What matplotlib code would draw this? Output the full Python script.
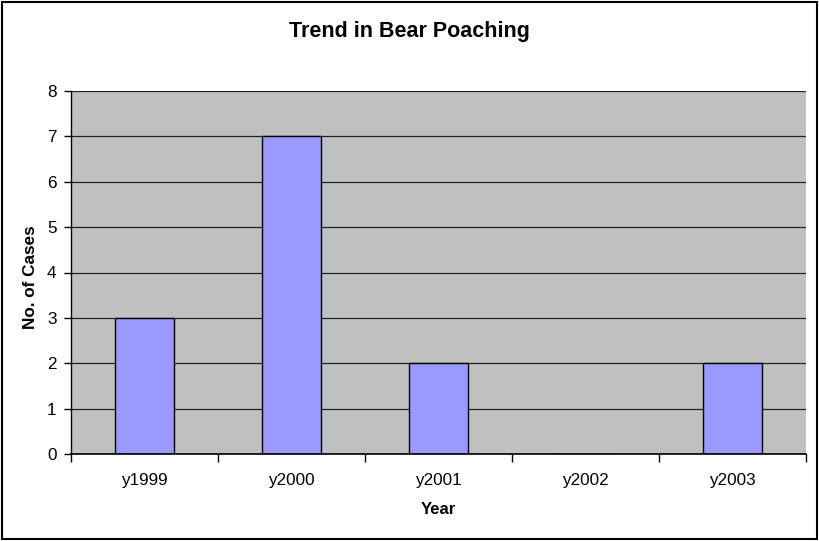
import numpy as np
import matplotlib.pyplot as plt
from matplotlib.patches import Rectangle

years = ["y1999", "y2000", "y2001", "y2002", "y2003"]
cases = [3, 7, 2, 0, 2]

plt.rcParams['font.family'] = ['Liberation Sans', 'DejaVu Sans']

W, H = 819, 541
fig = plt.figure(figsize=(W / 100, H / 100), dpi=100)
ax = fig.add_axes([71 / W, 1 - 454 / H, (806 - 71) / W, (454 - 91) / H])

x = np.arange(len(years))
ax.bar(x, cases, width=0.405, color="#9999FF", edgecolor="black", linewidth=1, zorder=3)

ax.set_facecolor("#C0C0C0")
ax.set_xlim(-0.5, len(years) - 0.5)
ax.set_ylim(0, 8)
ax.set_yticks(range(0, 9))
ax.yaxis.grid(True, color="#222222", linewidth=0.9, zorder=1)
ax.set_axisbelow(True)

ax.set_xticks(x)
ax.set_xticklabels(years, fontsize=12.3)
ax.set_xticks(np.arange(-0.5, len(years)), minor=True)
ax.tick_params(axis="x", which="major", length=0, pad=14)
ax.tick_params(axis="x", which="minor", length=6, width=1, direction="out")
ax.tick_params(axis="y", length=5, width=1, labelsize=12.3, pad=5.5)

for s in ["top", "right"]:
    ax.spines[s].set_visible(False)
ax.spines["left"].set_linewidth(1)
ax.spines["bottom"].set_linewidth(1.2)
ax.spines["bottom"].set_zorder(4)

fig.text(438.5 / W, 1 - 510 / H, "Year", ha="center", va="center",
         fontsize=12, fontweight="bold")
fig.text(31 / W, 1 - 277 / H, "No. of Cases", ha="center", va="center", rotation=90,
         fontsize=12.3, fontweight="bold")
fig.text(409.5 / W, 1 - 32 / H, "Trend in Bear Poaching", ha="center", va="center",
         fontsize=15.5, fontweight="bold")

fig.patches.append(Rectangle((2 / W, 2 / H), 815 / W, 537 / H, transform=fig.transFigure,
                             fill=False, edgecolor="black", linewidth=1.5))

fig.savefig("out.png", dpi=100)
